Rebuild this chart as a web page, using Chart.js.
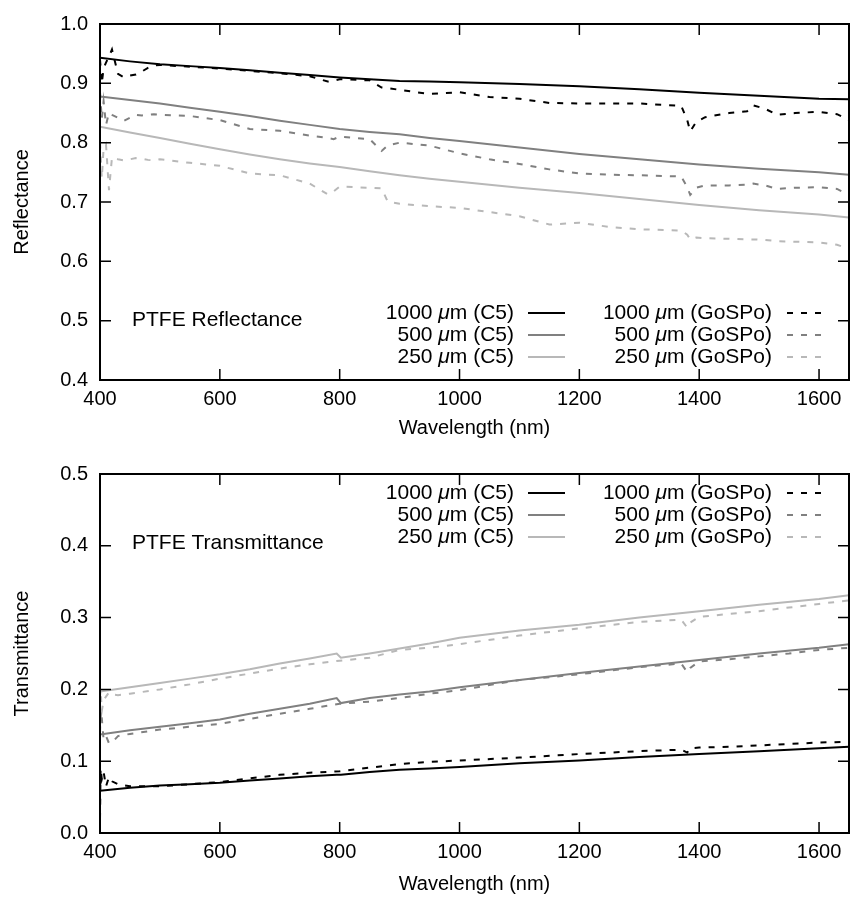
<!DOCTYPE html>
<html>
<head>
<meta charset="utf-8">
<title>PTFE reflectance / transmittance</title>
<script src="https://cdn.jsdelivr.net/npm/chart.js@4"></script>
<style>
  html, body { margin: 0; padding: 0; background: #fff; }
  #wrap { position: relative; width: 850px; height: 898px; }
  canvas { position: absolute; left: 0; }
  #refl { top: 0; }
  #trans { top: 450px; }
</style>
</head>
<body>
<div id="wrap">
  <canvas id="refl" width="850" height="450"></canvas>
  <canvas id="trans" width="850" height="448"></canvas>
</div>
<script>
/* valores, a olho (não é o dado original) */

const xTicks = [400, 600, 800, 1000, 1200, 1400, 1600];
const reflTicks = [0.4, 0.5, 0.6, 0.7, 0.8, 0.9, 1.0];
const transTicks = [0.0, 0.1, 0.2, 0.3, 0.4, 0.5];

const seriesLabels = [
  "1000 μm (C5)", "500 μm (C5)", "250 μm (C5)",
  "1000 μm (GoSPo)", "500 μm (GoSPo)", "250 μm (GoSPo)"
];

// --- reflectância ---
const wlReflC5 = [400, 450, 500, 550, 600, 650, 700, 750, 800, 850, 900, 950, 1000, 1100, 1200, 1300, 1400, 1500, 1600, 1650];
const refl1000C5 = [0.943, 0.937, 0.932, 0.929, 0.926, 0.922, 0.918, 0.914, 0.910, 0.907, 0.904, 0.903, 0.902, 0.899, 0.895, 0.890, 0.884, 0.879, 0.874, 0.873];
const refl500C5  = [0.878, 0.872, 0.866, 0.859, 0.852, 0.845, 0.837, 0.830, 0.823, 0.818, 0.814, 0.808, 0.803, 0.792, 0.781, 0.772, 0.763, 0.756, 0.750, 0.746];
const refl250C5  = [0.827, 0.817, 0.808, 0.798, 0.789, 0.780, 0.772, 0.765, 0.759, 0.752, 0.745, 0.739, 0.734, 0.724, 0.715, 0.705, 0.695, 0.686, 0.679, 0.674];

const wlReflGo = [400, 403, 406, 410, 415, 420, 430, 440, 450, 460, 470, 480, 490, 500, 550, 600, 650, 700, 750, 780, 790, 800, 850, 870, 880, 900, 950, 1000, 1050, 1100, 1150, 1200, 1250, 1300, 1370, 1380, 1385, 1395, 1410, 1450, 1480, 1490, 1510, 1530, 1560, 1600, 1630, 1650];
const refl1000Go = [0.940, 0.900, 0.925, 0.935, 0.945, 0.957, 0.916, 0.910, 0.913, 0.915, 0.920, 0.926, 0.930, 0.931, 0.928, 0.925, 0.921, 0.917, 0.912, 0.903, 0.904, 0.907, 0.905, 0.893, 0.892, 0.889, 0.882, 0.885, 0.877, 0.874, 0.867, 0.866, 0.866, 0.866, 0.862, 0.838, 0.819, 0.835, 0.843, 0.850, 0.853, 0.863, 0.857, 0.847, 0.850, 0.852, 0.848, 0.838];
const refl500Go  = [0.885, 0.840, 0.870, 0.830, 0.850, 0.847, 0.842, 0.837, 0.842, 0.847, 0.846, 0.847, 0.848, 0.847, 0.845, 0.838, 0.823, 0.820, 0.812, 0.808, 0.806, 0.810, 0.806, 0.786, 0.795, 0.800, 0.795, 0.782, 0.772, 0.764, 0.755, 0.748, 0.746, 0.745, 0.743, 0.725, 0.712, 0.724, 0.728, 0.728, 0.729, 0.731, 0.728, 0.722, 0.724, 0.725, 0.722, 0.712];
const refl250Go  = [0.800, 0.740, 0.790, 0.797, 0.720, 0.775, 0.772, 0.770, 0.772, 0.774, 0.773, 0.771, 0.770, 0.772, 0.766, 0.761, 0.748, 0.745, 0.731, 0.713, 0.718, 0.726, 0.724, 0.723, 0.701, 0.697, 0.693, 0.690, 0.683, 0.676, 0.662, 0.665, 0.658, 0.654, 0.652, 0.645, 0.637, 0.640, 0.639, 0.638, 0.637, 0.637, 0.636, 0.634, 0.633, 0.632, 0.628, 0.621];

// --- transmitância ---
const wlTransC5 = [400, 450, 500, 550, 600, 650, 700, 750, 795, 802, 850, 900, 950, 1000, 1100, 1200, 1300, 1400, 1500, 1600, 1650];
const trans1000C5 = [0.059, 0.063, 0.066, 0.068, 0.070, 0.073, 0.076, 0.079, 0.081, 0.081, 0.085, 0.088, 0.090, 0.092, 0.097, 0.101, 0.106, 0.110, 0.114, 0.118, 0.120];
const trans500C5  = [0.137, 0.143, 0.148, 0.153, 0.158, 0.166, 0.173, 0.180, 0.188, 0.181, 0.188, 0.193, 0.197, 0.203, 0.213, 0.223, 0.232, 0.241, 0.250, 0.258, 0.263];
const trans250C5  = [0.197, 0.203, 0.209, 0.215, 0.221, 0.228, 0.236, 0.243, 0.250, 0.244, 0.250, 0.257, 0.264, 0.272, 0.282, 0.290, 0.300, 0.309, 0.318, 0.326, 0.331];

const wlTransGo = [400, 401, 403, 406, 410, 415, 420, 430, 450, 500, 550, 600, 650, 700, 750, 800, 850, 900, 950, 1000, 1100, 1200, 1300, 1370, 1380, 1385, 1400, 1450, 1500, 1550, 1600, 1650];
const trans1000Go = [0.020, 0.090, 0.075, 0.085, 0.065, 0.078, 0.072, 0.068, 0.065, 0.065, 0.068, 0.071, 0.076, 0.081, 0.084, 0.086, 0.091, 0.096, 0.099, 0.101, 0.105, 0.110, 0.114, 0.116, 0.112, 0.118, 0.119, 0.120, 0.122, 0.124, 0.126, 0.127];
const trans500Go  = [0.140, 0.170, 0.160, 0.130, 0.135, 0.125, 0.126, 0.135, 0.138, 0.144, 0.148, 0.152, 0.159, 0.166, 0.173, 0.180, 0.183, 0.188, 0.194, 0.199, 0.213, 0.221, 0.231, 0.236, 0.224, 0.230, 0.239, 0.242, 0.246, 0.250, 0.255, 0.258];
const trans250Go  = [0.190, 0.200, 0.170, 0.185, 0.190, 0.196, 0.193, 0.192, 0.194, 0.200, 0.207, 0.215, 0.222, 0.229, 0.235, 0.240, 0.244, 0.255, 0.258, 0.263, 0.275, 0.285, 0.294, 0.297, 0.286, 0.293, 0.301, 0.305, 0.309, 0.314, 0.319, 0.324];

const FONT = "'Liberation Sans', Arial, Helvetica, sans-serif";
Chart.defaults.font.family = FONT;
Chart.defaults.color = "#000";

const cores = ["#000000", "#808080", "#b8b8b8"];
const DASH = [6, 8];

function pts(xs, ys) {
  return xs.map((x, i) => ({ x, y: ys[i] }));
}

function serie(i, xs, ys) {
  const dashed = i >= 3;
  return {
    label: seriesLabels[i],
    data: pts(xs, ys),
    borderColor: cores[i % 3],
    borderWidth: 2,
    borderDash: dashed ? DASH : [],
    pointRadius: 0,
    tension: 0,
    fill: false,
  };
}

// moldura estilo gnuplot: borda, ticks pra dentro nos 4 lados, legenda em 2 colunas, rótulo
const gnuplotFrame = {
  id: "gnuplotFrame",
  afterDatasetsDraw(chart, args, opts) {
    const { ctx, chartArea: a, scales } = chart;
    const tl = 11;
    ctx.save();

    ctx.strokeStyle = "#000";
    ctx.lineWidth = 1.5;
    ctx.setLineDash([]);
    ctx.beginPath();
    scales.x.ticks.forEach(t => {
      const px = scales.x.getPixelForValue(t.value);
      ctx.moveTo(px, a.bottom); ctx.lineTo(px, a.bottom - tl);
      ctx.moveTo(px, a.top); ctx.lineTo(px, a.top + tl);
    });
    scales.y.ticks.forEach(t => {
      const py = scales.y.getPixelForValue(t.value);
      ctx.moveTo(a.left, py); ctx.lineTo(a.left + tl, py);
      ctx.moveTo(a.right, py); ctx.lineTo(a.right - tl, py);
    });
    ctx.stroke();
    ctx.lineWidth = 2;
    ctx.strokeRect(a.left, a.top, a.right - a.left, a.bottom - a.top);

    // rótulo dentro do gráfico
    ctx.fillStyle = "#000";
    ctx.textBaseline = "middle";
    ctx.textAlign = "left";
    ctx.font = "21px " + FONT;
    ctx.fillText(opts.label, opts.labelX, opts.labelY);

    // legenda
    const normal = "21px " + FONT;
    const italico = "italic 21px " + FONT;
    chart.data.datasets.forEach((ds, i) => {
      const col = i < 3 ? 0 : 1;
      const row = i % 3;
      const y = opts.legendRows[row];
      const right = opts.legendTextRight[col];
      const partes = ds.label.split("μ");
      ctx.font = normal;
      const w1 = ctx.measureText(partes[0]).width;
      const w3 = ctx.measureText(partes[1]).width;
      ctx.font = italico;
      const w2 = ctx.measureText("μ").width;
      let x = right - (w1 + w2 + w3);
      ctx.font = normal; ctx.fillText(partes[0], x, y); x += w1;
      ctx.font = italico; ctx.fillText("μ", x, y); x += w2;
      ctx.font = normal; ctx.fillText(partes[1], x, y);

      const [s0, s1] = opts.legendSample[col];
      ctx.strokeStyle = ds.borderColor;
      ctx.lineWidth = ds.borderWidth;
      ctx.setLineDash(ds.borderDash || []);
      ctx.beginPath();
      ctx.moveTo(s0, y); ctx.lineTo(s1, y);
      ctx.stroke();
    });

    ctx.restore();
  }
};

function makeChart(id, cfg) {
  return new Chart(document.getElementById(id), {
    type: "line",
    data: { datasets: cfg.datasets },
    options: {
      responsive: false,
      animation: false,
      devicePixelRatio: 1,
      events: [],
      layout: { padding: { top: cfg.padTop, right: 1, left: 0, bottom: 0 } },
      scales: {
        x: {
          type: "linear",
          min: 400,
          max: 1650,
          afterBuildTicks: s => { s.ticks = xTicks.map(v => ({ value: v })); },
          afterFit: s => { s.height = cfg.xAxisHeight; },
          grid: { display: false, drawTicks: false },
          border: { display: false },
          ticks: { color: "#000", font: { size: 20 }, padding: 7, maxRotation: 0, autoSkip: false, callback: v => String(v) },
          title: { display: true, text: "Wavelength (nm)", color: "#000", font: { size: 20 }, padding: { top: 0, bottom: cfg.xTitlePad } },
        },
        y: {
          type: "linear",
          min: cfg.yTicks[0],
          max: cfg.yTicks[cfg.yTicks.length - 1],
          afterBuildTicks: s => { s.ticks = cfg.yTicks.map(v => ({ value: v })); },
          afterFit: s => { s.width = 100; },
          grid: { display: false, drawTicks: false },
          border: { display: false },
          ticks: { color: "#000", font: { size: 20 }, padding: 12, callback: v => Number(v).toFixed(1) },
          title: { display: true, text: cfg.yTitle, color: "#000", font: { size: 20 }, padding: { top: 10, bottom: 0 } },
        },
      },
      plugins: {
        legend: { display: false },
        tooltip: { enabled: false },
        gnuplotFrame: cfg.frame,
      },
    },
    plugins: [gnuplotFrame],
  });
}

document.addEventListener("DOMContentLoaded", () => {
  makeChart("refl", {
    padTop: 17,
    xAxisHeight: 70,
    xTitlePad: 10,
    yTicks: reflTicks,
    yTitle: "Reflectance",
    datasets: [
      serie(0, wlReflC5, refl1000C5),
      serie(1, wlReflC5, refl500C5),
      serie(2, wlReflC5, refl250C5),
      serie(3, wlReflGo, refl1000Go),
      serie(4, wlReflGo, refl500Go),
      serie(5, wlReflGo, refl250Go),
    ],
    frame: {
      label: "PTFE Reflectance",
      labelX: 132,
      labelY: 320,
      legendRows: [313, 335, 357],
      legendTextRight: [514, 772],
      legendSample: [[528, 565], [787, 823]],
    },
  });

  makeChart("trans", {
    padTop: 21,
    xAxisHeight: 65,
    xTitlePad: 2,
    yTicks: transTicks,
    yTitle: "Transmittance",
    datasets: [
      serie(0, wlTransC5, trans1000C5),
      serie(1, wlTransC5, trans500C5),
      serie(2, wlTransC5, trans250C5),
      serie(3, wlTransGo, trans1000Go),
      serie(4, wlTransGo, trans500Go),
      serie(5, wlTransGo, trans250Go),
    ],
    frame: {
      label: "PTFE Transmittance",
      labelX: 132,
      labelY: 93,
      legendRows: [43, 65, 87],
      legendTextRight: [514, 772],
      legendSample: [[528, 565], [787, 823]],
    },
  });
});
</script>
</body>
</html>
